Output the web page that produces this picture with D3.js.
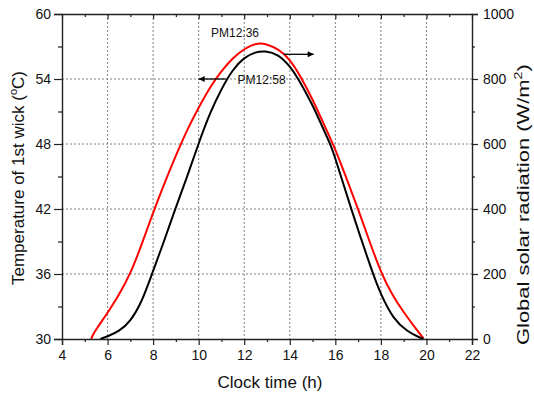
<!DOCTYPE html>
<html>
<head>
<meta charset="utf-8">
<script src="https://cdn.jsdelivr.net/npm/d3@7"></script>
<style>
  body { margin: 0; background: #fff; }
  svg { font-family: "Liberation Sans", Arial, sans-serif; }
</style>
</head>
<body>
<div id="chart"></div>
<script>
// wick temperature (left axis), black curve
const tempHours = [5.68, 6.0, 6.5, 7.0, 7.5, 7.95, 8.46, 8.97, 9.5, 10.0, 10.5, 11.0, 11.5, 12.0, 12.5, 12.9, 13.5, 14.0, 14.39, 15.0, 15.34, 15.78, 16.0, 16.69, 17.65, 18.0, 18.56, 19.15, 19.73, 19.87];
const tempValues = [30.0, 30.24, 30.7, 31.6, 33.4, 36.0, 38.9, 42.0, 45.0, 48.1, 50.9, 53.1, 54.9, 56.0, 56.5, 56.6, 56.3, 55.2, 54.0, 51.6, 50.0, 48.0, 46.7, 42.0, 36.0, 34.1, 31.8, 30.7, 30.1, 30.0];

// global solar radiation (right axis), red curve
const radHours = [5.28, 5.35, 5.5, 6.0, 6.5, 7.0, 7.5, 8.0, 8.5, 9.0, 9.5, 10.0, 10.5, 11.0, 11.5, 12.0, 12.56, 13.0, 13.5, 14.0, 14.5, 15.0, 15.5, 16.0, 16.5, 17.0, 17.5, 18.0, 18.5, 19.0, 19.5, 19.87];
const radValues = [0, 12, 30, 80, 135, 200, 290, 390, 480, 565, 645, 712, 775, 825, 865, 893, 912, 907, 892, 862, 805, 738, 660, 585, 492, 400, 300, 205, 135, 82, 35, 2];

const xTicks = [4, 6, 8, 10, 12, 14, 16, 18, 20, 22];
const tempTicks = [30, 36, 42, 48, 54, 60];
const radTicks = [0, 200, 400, 600, 800, 1000];

const width = 534, height = 396;
const box = { left: 62, right: 472, top: 14, bottom: 339 };

const svg = d3.select('#chart').append('svg')
    .attr('width', width)
    .attr('height', height);

const x = d3.scaleLinear().domain([4, 22]).range([box.left, box.right]);
const yT = d3.scaleLinear().domain([30, 60]).range([box.bottom, box.top]);
const yR = d3.scaleLinear().domain([0, 1000]).range([box.bottom, box.top]);

// grid
const grid = svg.append('g')
    .attr('stroke', '#808080')
    .attr('stroke-width', 1)
    .attr('stroke-dasharray', '2,2');
grid.selectAll('line.v')
    .data(xTicks.slice(1, -1))
    .join('line')
    .attr('x1', d => x(d)).attr('x2', d => x(d))
    .attr('y1', box.top).attr('y2', box.bottom);
grid.selectAll('line.h')
    .data(tempTicks.slice(1, -1))
    .join('line')
    .attr('class', 'h')
    .attr('x1', box.left).attr('x2', box.right)
    .attr('y1', d => yT(d)).attr('y2', d => yT(d));

// curves
const line = d3.line().curve(d3.curveBasis);
svg.append('path')
    .attr('d', line(radHours.map((h, i) => [x(h), yR(radValues[i])])))
    .attr('fill', 'none')
    .attr('stroke', '#ff0000')
    .attr('stroke-width', 2);
svg.append('path')
    .attr('d', line(tempHours.map((h, i) => [x(h), yT(tempValues[i])])))
    .attr('fill', 'none')
    .attr('stroke', '#000')
    .attr('stroke-width', 2);

// axes
const minor = (lo, hi, step) => d3.range(lo, hi + step / 2, step);
function styleAxis(g) {
    g.selectAll('.domain').attr('stroke', '#222').attr('stroke-width', 1.4);
    g.selectAll('.tick line').attr('stroke', '#222').attr('stroke-width', 1.2);
    g.selectAll('.tick text').attr('font-size', 14).attr('fill', '#111');
}

svg.append('g').attr('transform', 'translate(0,' + box.bottom + ')')
    .call(d3.axisBottom(x).tickValues(xTicks).tickFormat(d3.format('d')).tickSize(6).tickPadding(5))
    .call(styleAxis);
svg.append('g').attr('transform', 'translate(0,' + box.bottom + ')')
    .call(d3.axisBottom(x).tickValues(minor(5, 21, 2)).tickFormat('').tickSize(3))
    .call(styleAxis).select('.domain').remove();

svg.append('g').attr('transform', 'translate(0,' + box.top + ')')
    .call(d3.axisBottom(x).tickValues(xTicks).tickFormat('').tickSizeInner(5).tickSizeOuter(0))
    .call(styleAxis);
svg.append('g').attr('transform', 'translate(0,' + box.top + ')')
    .call(d3.axisBottom(x).tickValues(minor(5, 21, 2)).tickFormat('').tickSize(3))
    .call(styleAxis).select('.domain').remove();

svg.append('g').attr('transform', 'translate(' + box.left + ',0)')
    .call(d3.axisLeft(yT).tickValues(tempTicks).tickFormat(d3.format('d')).tickSize(8).tickPadding(3))
    .call(styleAxis);
svg.append('g').attr('transform', 'translate(' + box.left + ',0)')
    .call(d3.axisLeft(yT).tickValues(minor(33, 57, 6)).tickFormat('').tickSize(4))
    .call(styleAxis).select('.domain').remove();

svg.append('g').attr('transform', 'translate(' + box.right + ',0)')
    .call(d3.axisRight(yR).tickValues(radTicks).tickFormat(d3.format('d')).tickSize(6).tickPadding(5))
    .call(styleAxis);
svg.append('g').attr('transform', 'translate(' + box.right + ',0)')
    .call(d3.axisRight(yR).tickValues(minor(100, 900, 200)).tickFormat('').tickSize(3))
    .call(styleAxis).select('.domain').remove();

// axis titles
svg.append('text')
    .attr('x', (box.left + box.right) / 2 + 3).attr('y', 388)
    .attr('text-anchor', 'middle').attr('font-size', 17).attr('fill', '#111')
    .text('Clock time (h)');

const lt = svg.append('text')
    .attr('transform', 'translate(24,285) rotate(-90)')
    .attr('font-size', 17).attr('fill', '#111');
lt.append('tspan').text('Temperature of 1st wick (');
lt.append('tspan').attr('font-size', 11).attr('dy', -7).text('o');
lt.append('tspan').attr('dy', 7).text('C)');

// the right title is drawn stretched along its length in the reference
const rt = svg.append('text')
    .attr('transform', 'translate(529,345) rotate(-90) scale(1.29,1)')
    .attr('font-size', 17).attr('fill', '#111');
rt.append('tspan').text('Global solar radiation (W/m');
rt.append('tspan').attr('font-size', 11).attr('dy', -7).text('2');
rt.append('tspan').attr('dy', 7).text(')');

// annotations
svg.append('defs').append('marker')
    .attr('id', 'head')
    .attr('viewBox', '0 0 10 10')
    .attr('refX', 10).attr('refY', 5)
    .attr('markerWidth', 8).attr('markerHeight', 6)
    .attr('markerUnits', 'userSpaceOnUse')
    .attr('orient', 'auto')
    .append('path').attr('d', 'M0,0L10,5L0,10Z').attr('fill', '#000');

svg.append('line')
    .attr('x1', x(11.2)).attr('x2', x(10.0))
    .attr('y1', yT(54)).attr('y2', yT(54))
    .attr('stroke', '#000').attr('stroke-width', 1.3)
    .attr('marker-end', 'url(#head)');
svg.append('line')
    .attr('x1', x(13.73)).attr('x2', x(15.05))
    .attr('y1', yR(876)).attr('y2', yR(876))
    .attr('stroke', '#000').attr('stroke-width', 1.3)
    .attr('marker-end', 'url(#head)');

svg.append('text')
    .attr('x', x(10.54)).attr('y', yR(929))
    .attr('font-size', 12).attr('fill', '#111')
    .text('PM12:36');
svg.append('text')
    .attr('x', x(11.71)).attr('y', yT(54) + 4.5)
    .attr('font-size', 12).attr('fill', '#111')
    .text('PM12:58');
</script>
</body>
</html>
